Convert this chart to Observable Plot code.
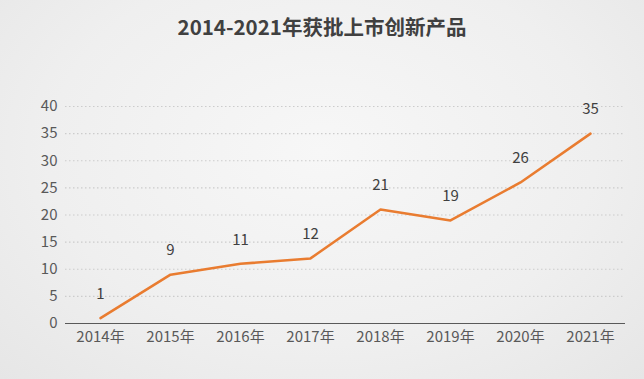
<!DOCTYPE html>
<html><head><meta charset="utf-8">
<script src="https://cdn.jsdelivr.net/npm/d3@7"></script>
<script src="https://cdn.jsdelivr.net/npm/@observablehq/plot@0.6"></script>
<style>
html,body{margin:0;padding:0;}
body{width:644px;height:379px;overflow:hidden;font-family:"Microsoft YaHei","Noto Sans CJK SC","Noto Sans",sans-serif;
background:radial-gradient(ellipse at 50% 40%, #f7f7f7 0%, #efefef 60%, #e6e6e6 100%);}
#title{height:50px;line-height:52px;text-align:center;font-size:20.5px;font-weight:bold;color:#404040;font-family:"Noto Sans CJK SC",sans-serif;}
#chart svg{background:transparent;}
</style></head>
<body>
<div id="title">2014-2021年获批上市创新产品</div>
<div id="chart"></div>
<script>
const years = ["2014年","2015年","2016年","2017年","2018年","2019年","2020年","2021年"];
const counts = [1, 9, 11, 12, 21, 19, 26, 35];
const yTicks = [0, 5, 10, 15, 20, 25, 30, 35, 40];

const data = years.map((y, i) => ({year: y, count: counts[i]}));

const chart = Plot.plot({
  width: 644,
  height: 329,
  marginTop: 56,
  marginBottom: 56,
  marginLeft: 65,
  marginRight: 19,
  style: {background: "transparent", fontFamily: "'Noto Sans CJK SC', sans-serif", fontSize: "15px", color: "#595959"},
  x: {type: "point", domain: years, padding: 0.5, label: null, tickSize: 0, tickPadding: 8},
  y: {domain: [0, 40], ticks: yTicks, label: null, tickSize: 0, tickPadding: 8},
  marks: [
    Plot.gridY(yTicks.filter(t => t > 0), {stroke: "#cccccc", strokeOpacity: 1, strokeDasharray: "1.5,2.5", strokeWidth: 1.2}),
    Plot.ruleY([0], {stroke: "#595959", strokeWidth: 1}),
    Plot.line(data, {x: "year", y: "count", stroke: "#E97C30", strokeWidth: 2.5}),
    Plot.text(data, {x: "year", y: "count", text: d => String(d.count), dy: -24, fill: "#404040", fontSize: 15})
  ]
});
document.getElementById("chart").appendChild(chart);
</script>
</body></html>
